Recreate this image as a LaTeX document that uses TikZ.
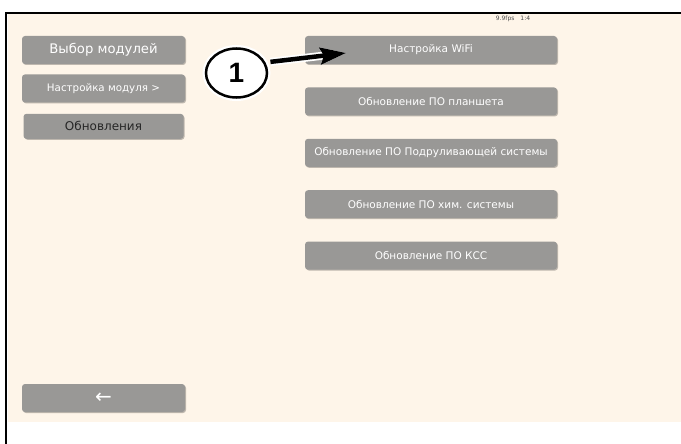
\documentclass[tikz,border=0pt]{standalone}
\usepackage{fontspec}
\setmainfont{DejaVu Sans}
\newfontfamily\callfont{Liberation Sans}
\usetikzlibrary{positioning,arrows.meta,shadows,shapes.geometric}

\definecolor{screen}{RGB}{254,245,233}
\definecolor{btngray}{RGB}{153,152,150}

\tikzset{
	btn/.style={rectangle, rounded corners=3pt, fill=btngray, text=white, inner sep=0pt,
		minimum width=252pt, minimum height=28pt,
		drop shadow={shadow xshift=1pt, shadow yshift=-1pt, fill=black, opacity=0.25},
		font=\fontsize{10.5}{12}\selectfont},
	menubtn/.style={btn, minimum width=163pt},
	callout/.style={ellipse, draw=black, line width=2.5pt, fill=white, inner sep=0pt,
		minimum width=61pt, minimum height=49pt,
		preaction={draw=white, line width=7pt},
		font=\callfont\bfseries\fontsize{28}{30}\selectfont},
	pointer/.style={-{Stealth[length=26pt, width=17pt, inset=4pt]}, line width=4.5pt,
		shorten <=5pt, preaction={draw=white, line width=8pt, shorten <=5pt}},
}

\begin{document}
\begin{tikzpicture}[x=1pt, y=-1pt]
\useasboundingbox (0,0) rectangle (681,444);

\fill[screen] (8,14) rectangle (681,422);
\draw[line width=2pt] (6,444) -- (6,13) -- (681,13);

\node[font=\fontsize{6}{7}\selectfont, text=black!70] (fps) at (513,19) {9.9fps\quad 1:4};

\node[menubtn, font=\fontsize{13.2}{15}\selectfont] (modules) at (103.5,50) {Выбор модулей};
\node[menubtn, font=\fontsize{10.3}{12}\selectfont, below=10pt of modules] (setup) {Настройка модуля >};
\node[menubtn, minimum width=160pt, minimum height=25pt, text=black!85,
	font=\fontsize{12}{14}\selectfont, below=11pt of setup] (updates) {Обновления};
\node[menubtn, font=\fontsize{20}{22}\selectfont] (back) at (103.5,398) {←};

\node[btn] (wifi) at (431,50) {Настройка WiFi};
\node[btn, below=23pt of wifi] (tablet) {Обновление ПО планшета};
\node[btn, below=23pt of tablet] (thruster) {Обновление ПО Подруливающей системы};
\node[btn, below=23pt of thruster] (chem) {Обновление ПО хим. системы};
\node[btn, below=23pt of chem] (kss) {Обновление ПО КСС};

\node[callout] (c1) at (236.5,73) {1};
\coordinate (tip) at (346,53);
\draw[pointer] (c1.20) -- (tip);

\end{tikzpicture}
\end{document}
